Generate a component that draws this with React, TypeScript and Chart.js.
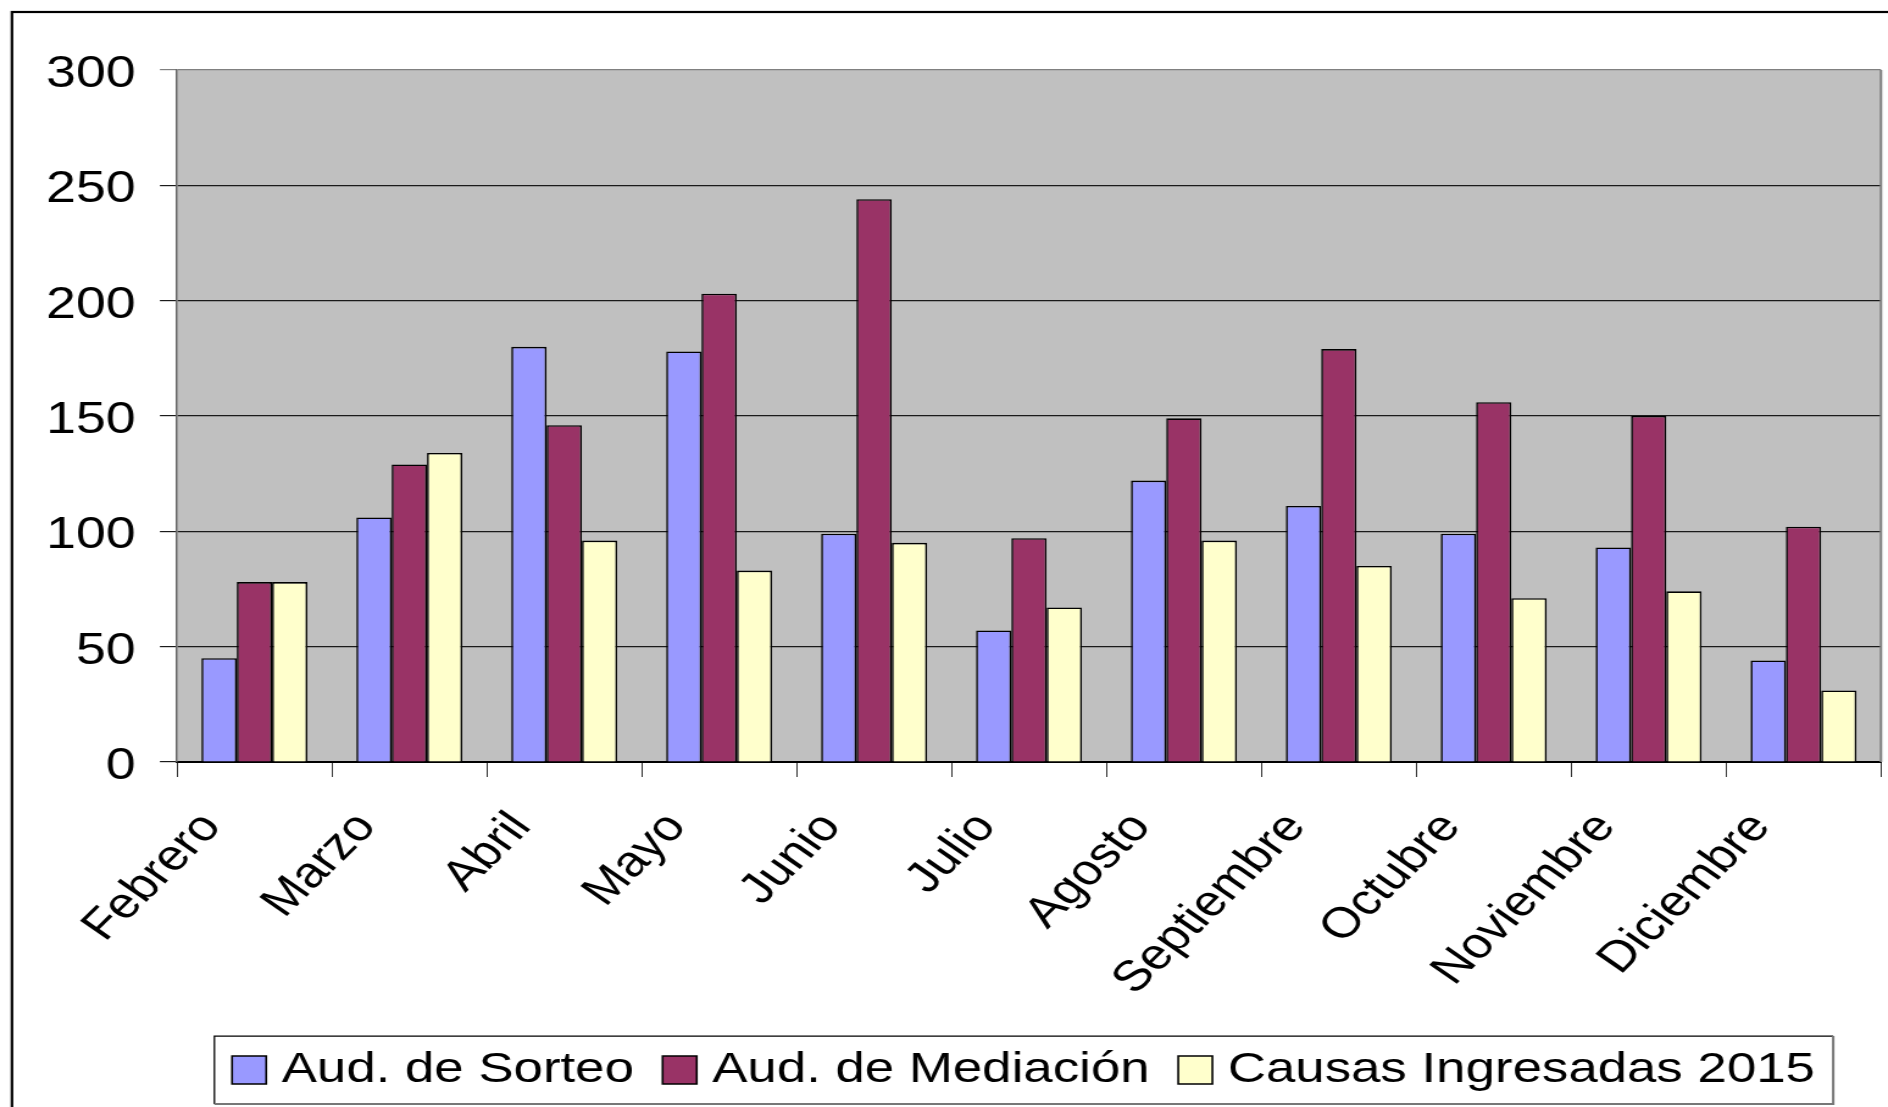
import { useEffect, useRef } from 'react';
import { Chart, registerables } from 'chart.js';

Chart.register(...registerables);

const categories = ['Febrero', 'Marzo', 'Abril', 'Mayo', 'Junio', 'Julio', 'Agosto', 'Septiembre', 'Octubre', 'Noviembre', 'Diciembre'];
const audSorteo = [45, 106, 180, 178, 99, 57, 122, 111, 99, 93, 44];
const audMediacion = [78, 129, 146, 203, 244, 97, 149, 179, 156, 150, 102];
const causasIngresadas = [78, 134, 96, 83, 95, 67, 96, 85, 71, 74, 31];
const seriesNames = ['Aud. de Sorteo', 'Aud. de Mediación', 'Causas Ingresadas 2015'];
const seriesColors = ['#9999FF', '#993366', '#FFFFCC'];
const yTicks = [0, 50, 100, 150, 200, 250, 300];

const SX = 1.2196;
const W = 1548;
const H = 1107;
const FONT = '"Liberation Sans", Arial, Helvetica, sans-serif';

const decor = {
  id: 'decor',
  beforeDraw(chart: any) {
    const { ctx, chartArea: a } = chart;
    ctx.save();
    ctx.fillStyle = '#ffffff';
    ctx.fillRect(0, 0, chart.width, chart.height);
    ctx.strokeStyle = '#000000';
    ctx.lineWidth = 2.2;
    ctx.strokeRect(9.8, 12, chart.width + 100, chart.height + 100);
    ctx.fillStyle = '#C0C0C0';
    ctx.fillRect(a.left, a.top, a.right - a.left, a.bottom - a.top);
    ctx.restore();
  },
  afterDraw(chart: any) {
    const { ctx, chartArea: a } = chart;
    ctx.save();
    ctx.strokeStyle = '#808080';
    ctx.lineWidth = 2;
    ctx.beginPath();
    ctx.moveTo(a.right, a.top);
    ctx.lineTo(a.right, a.bottom);
    ctx.stroke();
    const lg = chart.legend;
    const hb = lg && lg.legendHitBoxes;
    if (hb && hb.length) {
      const first = hb[0];
      const last = hb[hb.length - 1];
      const left = first.left - 23.5;
      const right = last.left + last.width + 15;
      const top = lg.top + 20.2;
      const bottom = lg.bottom + 2.3;
      ctx.strokeStyle = '#000000';
      ctx.lineWidth = 1.3;
      ctx.beginPath();
      ctx.moveTo(left, bottom);
      ctx.lineTo(left, top);
      ctx.lineTo(right, top);
      ctx.stroke();
      ctx.strokeStyle = '#777777';
      ctx.lineWidth = 2;
      ctx.beginPath();
      ctx.moveTo(right, top);
      ctx.lineTo(right, bottom);
      ctx.lineTo(left, bottom);
      ctx.stroke();
    }
    ctx.restore();
  },
};

export default function App() {
  const ref = useRef<HTMLCanvasElement | null>(null);

  useEffect(() => {
    if (!ref.current) return;
    const values = [audSorteo, audMediacion, causasIngresadas];
    const chart = new Chart(ref.current, {
      type: 'bar',
      data: {
        labels: categories,
        datasets: seriesNames.map((name, i) => ({
          label: name,
          data: values[i],
          backgroundColor: seriesColors[i],
          borderColor: '#000000',
          borderWidth: 1.6,
          categoryPercentage: 0.684,
          barPercentage: 1.0,
        })),
      },
      options: {
        responsive: false,
        animation: false,
        events: [],
        layout: { padding: { left: 20, right: 5.7, top: 70, bottom: 5.35 } },
        plugins: {
          legend: {
            position: 'bottom',
            fullSize: false,
            labels: {
              usePointStyle: true,
              pointStyle: 'rect',
              boxWidth: 10,
              boxHeight: 28,
              padding: 32.5,
              color: '#000000',
              font: { family: FONT, size: 43.3 },
            },
          },
          tooltip: { enabled: false },
        },
        scales: {
          x: {
            grid: {
              offset: true,
              drawOnChartArea: false,
              drawTicks: true,
              tickLength: 15,
              color: '#333333',
              lineWidth: 1,
            },
            border: { display: true, color: '#000000', width: 2 },
            ticks: {
              autoSkip: false,
              minRotation: 50,
              maxRotation: 50,
              padding: 26,
              labelOffset: -35,
              color: '#000000',
              font: { family: FONT, size: 43 },
            },
            afterFit: (s: any) => {
              s.height = 253.85;
            },
          },
          y: {
            min: 0,
            max: 300,
            grid: {
              color: (c: any) => (c.tick && c.tick.value === 300 ? '#808080' : '#1a1a1a'),
              lineWidth: 1.2,
              tickLength: 14,
              drawTicks: true,
            },
            border: { display: true, color: '#666666', width: 1.5 },
            ticks: {
              autoSkip: false,
              stepSize: 50,
              padding: 20,
              labelOffset: 5,
              color: '#000000',
              font: { family: FONT, size: 44 },
            },
            afterBuildTicks: (s: any) => {
              s.ticks = yTicks.map((v) => ({ value: v }));
            },
            afterFit: (s: any) => {
              s.width = 125.1;
            },
          },
        },
      },
      plugins: [decor],
    } as any);
    return () => chart.destroy();
  }, []);

  return (
    <div
      style={{
        position: 'fixed',
        left: 0,
        top: 0,
        width: 1888,
        height: 1107,
        overflow: 'hidden',
        background: '#ffffff',
      }}
    >
      <canvas
        ref={ref}
        width={W}
        height={H}
        style={{ display: 'block', transform: `scaleX(${SX})`, transformOrigin: '0 0' }}
      />
    </div>
  );
}
